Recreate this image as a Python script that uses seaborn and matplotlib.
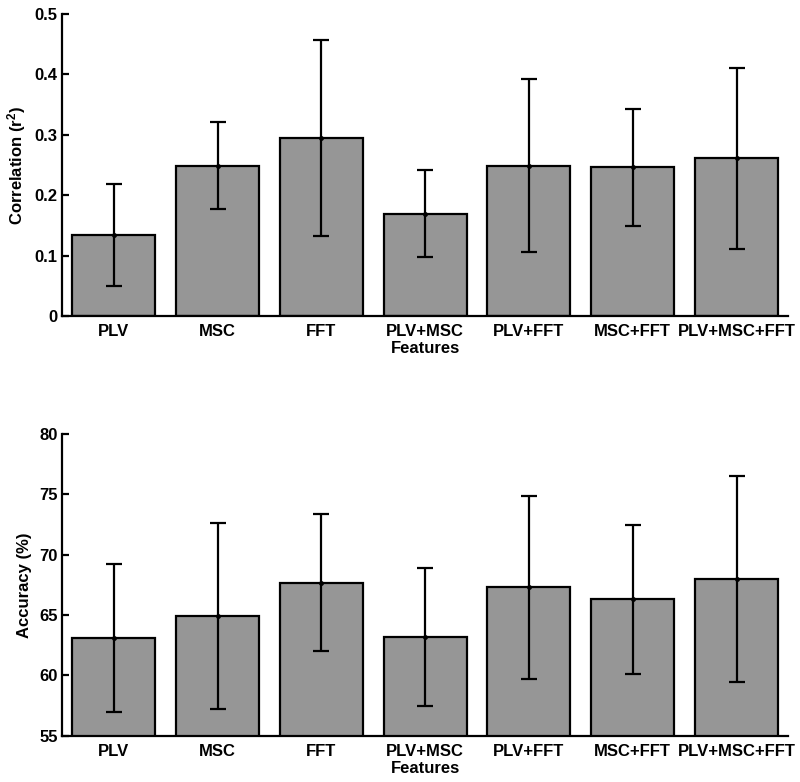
import matplotlib
matplotlib.use("Agg")
import matplotlib.pyplot as plt
import matplotlib.ticker as mticker
import pandas as pd
import seaborn as sns

features = ["PLV", "MSC", "FFT", "PLV+MSC", "PLV+FFT", "MSC+FFT", "PLV+MSC+FFT"]
corr_mean = [0.134, 0.249, 0.295, 0.169, 0.249, 0.246, 0.261]
corr_err = [0.085, 0.072, 0.162, 0.072, 0.143, 0.097, 0.150]
acc_mean = [63.1, 64.9, 67.7, 63.2, 67.3, 66.3, 68.0]
acc_err = [6.15, 7.7, 5.7, 5.7, 7.6, 6.2, 8.5]

sns.set_style("ticks")
plt.rcParams["font.family"] = ["Liberation Sans", "DejaVu Sans"]
plt.rcParams["font.weight"] = "bold"
plt.rcParams["axes.labelweight"] = "bold"
plt.rcParams["text.color"] = "black"
plt.rcParams["axes.labelcolor"] = "black"
plt.rcParams["axes.edgecolor"] = "black"
plt.rcParams["xtick.color"] = "black"
plt.rcParams["ytick.color"] = "black"
plt.rcParams["mathtext.fontset"] = "custom"
plt.rcParams["mathtext.rm"] = "Liberation Sans:bold"
plt.rcParams["mathtext.bf"] = "Liberation Sans:bold"
plt.rcParams["mathtext.it"] = "Liberation Sans:bold"

fig = plt.figure(figsize=(8, 7.82), dpi=100)
ax_top = fig.add_axes([0.0775, 0.596, 0.908, 0.386])
ax_bot = fig.add_axes([0.0775, 0.059, 0.908, 0.386])


def draw(ax, means, errs, ylabel, ylim, ticks, fmt):
    df = pd.DataFrame({"Features": features, "value": means})
    sns.barplot(data=df, x="Features", y="value", ax=ax, color="#969696",
                saturation=1, width=0.8, edgecolor="black", linewidth=1.6,
                errorbar=None)
    xs = range(len(features))
    ax.errorbar(xs, means, yerr=errs, fmt="o", color="black", markersize=2.5,
                elinewidth=1.6, capsize=6, capthick=1.6)
    ax.set_xlim(-0.5, 6.5)
    ax.set_ylim(*ylim)
    ax.set_yticks(ticks)
    ax.yaxis.set_major_formatter(mticker.FuncFormatter(fmt))
    ax.set_ylabel(ylabel, fontsize=12, fontweight="bold", labelpad=5)
    ax.set_xlabel("Features", fontsize=12, fontweight="bold", labelpad=1)
    sns.despine(ax=ax)
    for s in ["left", "bottom"]:
        ax.spines[s].set_linewidth(1.6)
    ax.tick_params(axis="y", direction="in", length=5, width=1.6, labelsize=12, pad=3)
    ax.tick_params(axis="x", length=0, labelsize=12, pad=6)
    for lab in ax.get_xticklabels() + ax.get_yticklabels():
        lab.set_fontweight("bold")


draw(ax_top, corr_mean, corr_err, "Correlation (r$^{2}$)", (0, 0.5),
     [0, 0.1, 0.2, 0.3, 0.4, 0.5], lambda v, p: "0" if v == 0 else f"{v:.1f}")
draw(ax_bot, acc_mean, acc_err, "Accuracy (%)", (55, 80),
     [55, 60, 65, 70, 75, 80], lambda v, p: f"{v:.0f}")

fig.savefig("out.png", dpi=100)
